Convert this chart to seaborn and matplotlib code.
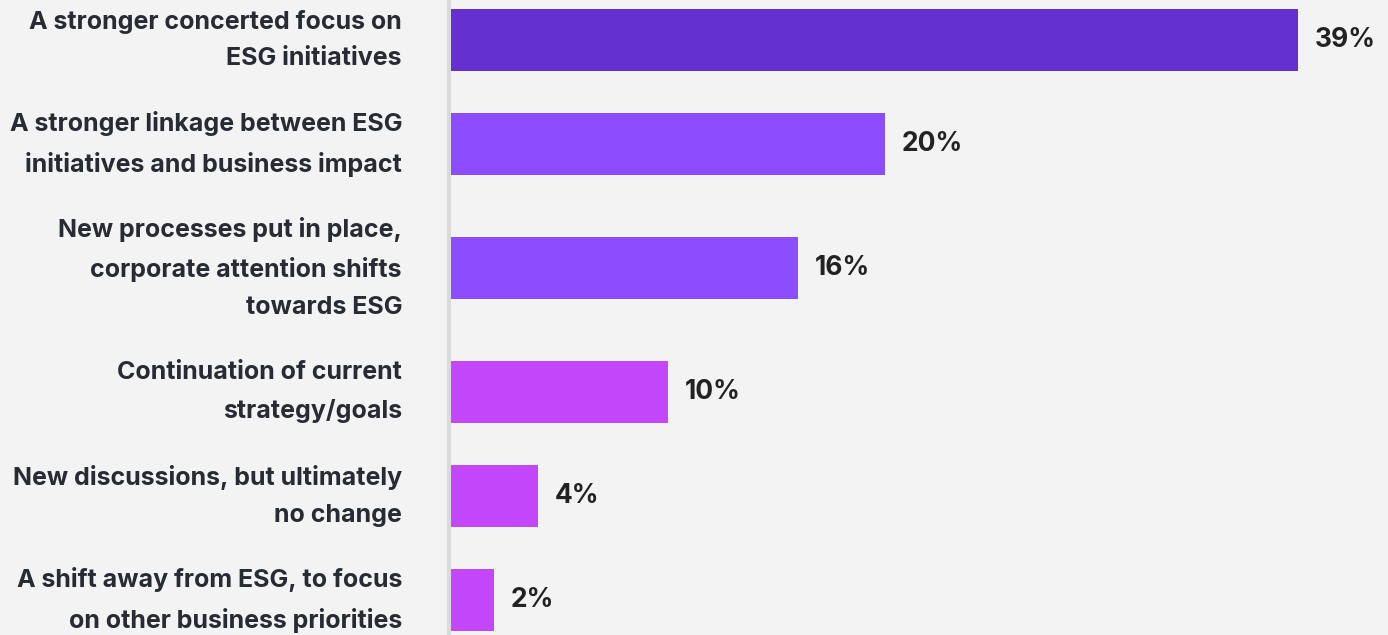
import numpy as np
import pandas as pd
import matplotlib
matplotlib.use("Agg")
import matplotlib.pyplot as plt
import matplotlib.transforms as mtransforms
import seaborn as sns

categories = [
    "A stronger concerted focus on\nESG initiatives",
    "A stronger linkage between ESG\ninitiatives and business impact",
    "New processes put in place,\ncorporate attention shifts\ntowards ESG",
    "Continuation of current\nstrategy/goals",
    "New discussions, but ultimately\nno change",
    "A shift away from ESG, to focus\non other business priorities",
]
values = [39, 20, 16, 10, 4, 2]
palette = ["#6430CF", "#8B4DFE", "#8B4DFE", "#C347FA", "#C347FA", "#C347FA"]

BG = "#F3F3F3"
sns.set_theme(style="white", rc={"axes.facecolor": BG, "figure.facecolor": BG})
plt.rcParams["font.family"] = ["Inter", "DejaVu Sans"]

# row layout: each row height grows with the number of label lines
lines = np.array([c.count("\n") + 1 for c in categories])
row_h = lines + 0.6
pos = np.concatenate([[0.0], np.cumsum((row_h[:-1] + row_h[1:]) / 2)])

df = pd.DataFrame({"label": categories, "value": values, "pos": pos})

fig = plt.figure(figsize=(13.88, 6.35), dpi=100)
ax = fig.add_axes([451 / 1388, 0, 1 - 451 / 1388, 1])

bar_h = 1.55
min_gap = np.min(np.diff(pos))
sns.barplot(data=df, x="value", y="pos", hue="label", palette=palette,
            orient="y", native_scale=True, dodge=False, legend=False,
            width=bar_h / min_gap, saturation=1, linewidth=0, ax=ax)

ax.set_xlim(0, 43.15)
ax.set_ylim(14.875, -1.0)
ax.set_xticks([])
ax.set_yticks([])
ax.set_xlabel("")
ax.set_ylabel("")

trans = mtransforms.blended_transform_factory(ax.transAxes, ax.transData)
trans = mtransforms.offset_copy(trans, fig=fig, x=-49, y=0, units="dots")
for p, lab in zip(pos, categories):
    ax.text(0, p, lab, transform=trans, ha="right", va="center",
            multialignment="right", fontsize=18, fontweight="bold",
            color="#272B33", linespacing=1.76)

for s in ["top", "right", "bottom"]:
    ax.spines[s].set_visible(False)
ax.spines["left"].set_color("#DADADA")
ax.spines["left"].set_linewidth(2.9)
ax.spines["left"].set_position(("outward", 1.44))

for cont in ax.containers:
    ax.bar_label(cont, fmt="%d%%", padding=12, fontsize=19,
                 fontweight="bold", color="#222222")

fig.savefig("out.png", dpi=100, facecolor=BG)
